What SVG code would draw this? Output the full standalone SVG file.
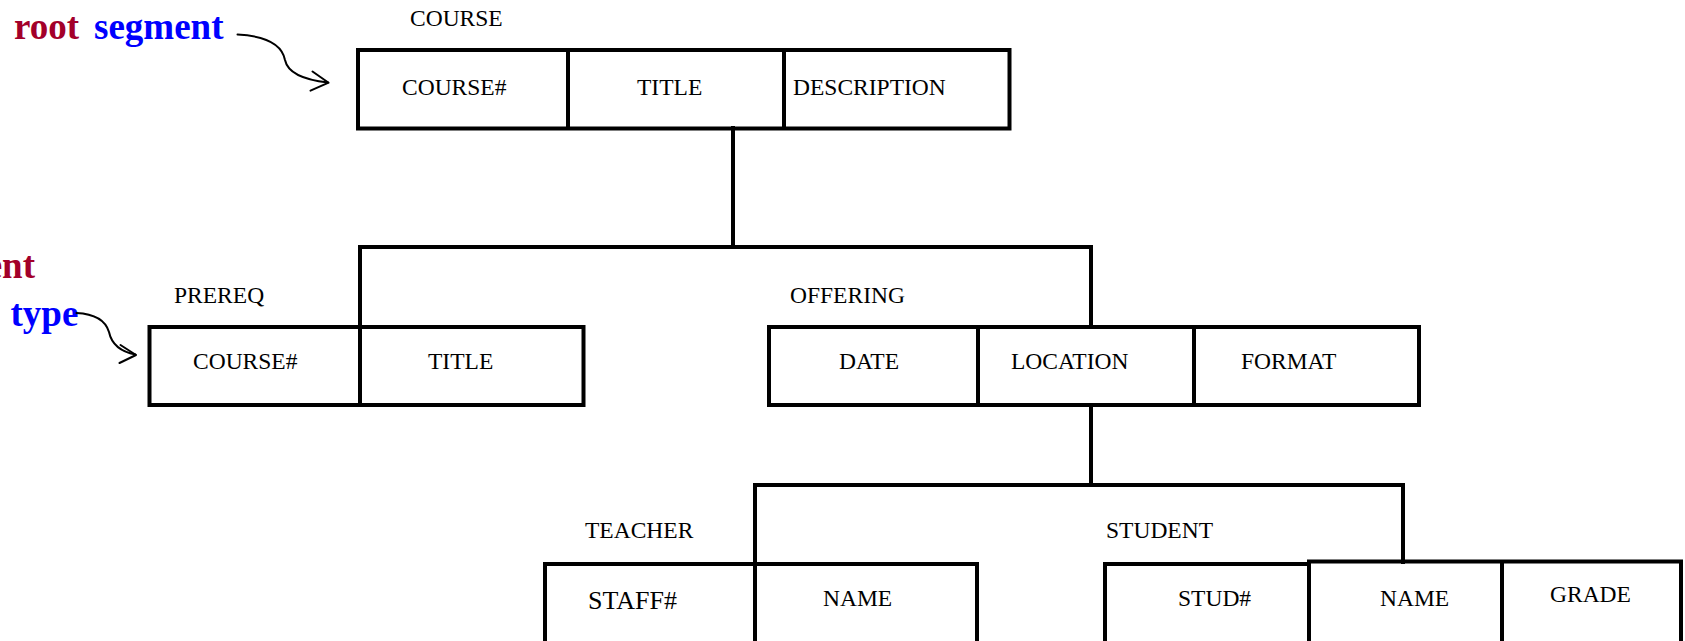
<svg xmlns="http://www.w3.org/2000/svg" width="1685" height="641" viewBox="0 0 1685 641">
  <style>
    .cell { fill: none; stroke: #000; stroke-width: 4; }
    .wire { fill: none; stroke: #000; stroke-width: 4; stroke-linecap: square; }
    .lbl { font-family: "Liberation Serif", "Times New Roman", serif; font-size: 23.5px; fill: #000; }
    .note { font-family: "Liberation Serif", "Times New Roman", serif; font-size: 37px; font-weight: bold; }
    .red { fill: #a3002a; }
    .blue { fill: #0000ff; }
    .curl { fill: none; stroke: #000; stroke-width: 2; stroke-linecap: round; stroke-linejoin: round; }
  </style>
  <rect width="1685" height="641" fill="#fff"/>

  <!-- tree connectors -->
  <g id="connectors">
    <path class="wire" d="M733,128 V247 M360,247 H1091 M360,247 V327 M1091,247 V327"/>
    <path class="wire" d="M1091,405 V485 M755,485 H1403 M755,485 V564 M1403,485 V562"/>
  </g>

  <!-- annotations -->
  <g id="note-root">
    <text class="note red" x="14" y="39">root</text>
    <text class="note blue" x="94" y="39">segment</text>
    <path class="curl" d="M237.5,34.5 C265,36 282,44 285,60 C288,74 305,80 328,82.5"/>
    <polyline class="curl" points="312.5,71.5 328.6,82.7 310.5,90.7"/>
  </g>
  <g id="note-type">
    <text class="note red" x="35" y="278" text-anchor="end">ent</text>
    <text class="note blue" x="10.5" y="326">type</text>
    <path class="curl" d="M76.5,313 C97,314 106,322 109,332 C112,346 122,352 135.5,354.5"/>
    <polyline class="curl" points="120.5,345 136,355 119.5,363"/>
  </g>

  <!-- COURSE segment -->
  <g id="course">
    <text class="lbl" x="410" y="26">COURSE</text>
    <rect class="cell" x="358" y="50" width="651.5" height="78.5"/>
    <line class="cell" x1="568" y1="50" x2="568" y2="128.5"/>
    <line class="cell" x1="784" y1="50" x2="784" y2="128.5"/>
    <text class="lbl" x="402" y="95">COURSE#</text>
    <text class="lbl" x="637" y="95">TITLE</text>
    <text class="lbl" x="793" y="95">DESCRIPTION</text>
  </g>

  <!-- PREREQ segment -->
  <g id="prereq">
    <text class="lbl" x="174" y="303">PREREQ</text>
    <rect class="cell" x="149.5" y="327" width="434" height="78"/>
    <line class="cell" x1="360" y1="327" x2="360" y2="405"/>
    <line class="cell" x1="360" y1="405" x2="375" y2="405"/>
    <text class="lbl" x="193" y="369">COURSE#</text>
    <text class="lbl" x="428" y="369">TITLE</text>
  </g>

  <!-- OFFERING segment -->
  <g id="offering">
    <text class="lbl" x="790" y="303">OFFERING</text>
    <rect class="cell" x="769" y="327" width="650" height="78"/>
    <line class="cell" x1="978" y1="327" x2="978" y2="405"/>
    <line class="cell" x1="1194" y1="327" x2="1194" y2="405"/>
    <text class="lbl" x="839" y="369">DATE</text>
    <text class="lbl" x="1011" y="369">LOCATION</text>
    <text class="lbl" x="1241" y="369">FORMAT</text>
  </g>

  <!-- TEACHER segment -->
  <g id="teacher">
    <text class="lbl" x="585" y="538">TEACHER</text>
    <rect class="cell" x="545" y="564" width="432" height="100"/>
    <line class="cell" x1="755" y1="564" x2="755" y2="664"/>
    <text class="lbl" x="588" y="609" style="font-size:26px">STAFF#</text>
    <text class="lbl" x="823" y="606">NAME</text>
  </g>

  <!-- STUDENT segment -->
  <g id="student">
    <text class="lbl" x="1106" y="538">STUDENT</text>
    <rect class="cell" x="1105" y="564" width="204" height="100"/>
    <rect class="cell" x="1309" y="561.5" width="372" height="102"/>
    <line class="cell" x1="1502" y1="561.5" x2="1502" y2="664"/>
    <text class="lbl" x="1178" y="606">STUD#</text>
    <text class="lbl" x="1380" y="606">NAME</text>
    <text class="lbl" x="1550" y="601.5">GRADE</text>
  </g>
</svg>
